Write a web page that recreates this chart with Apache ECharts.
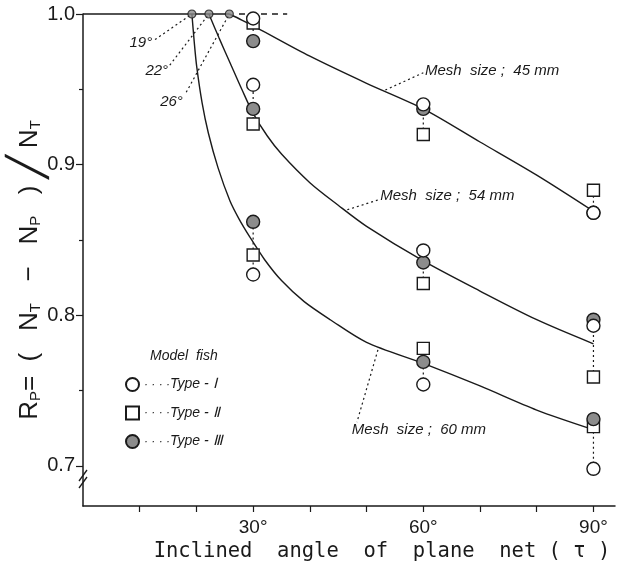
<!DOCTYPE html>
<html><head><meta charset="utf-8">
<script src="https://cdn.jsdelivr.net/npm/echarts@6/dist/echarts.min.js"></script>
<style>html,body{margin:0;padding:0;background:#fff}#c{width:624px;height:573px}</style>
</head><body><div id="c"></div>
<script>
// ---- data ----
const angles = [30, 60, 90];
// Type I (open circle)
const typeI_45 = [0.997, 0.940, 0.868];
const typeI_54 = [0.953, 0.843, 0.793];
const typeI_60 = [0.827, 0.754, 0.698];
// Type II (open square)
const typeII_45 = [0.994, 0.920, 0.883];
const typeII_54 = [0.927, 0.821, 0.759];
const typeII_60 = [0.840, 0.778, 0.726];
// Type III (shaded circle)
const typeIII_45 = [0.982, 0.937, 0.868];
const typeIII_54 = [0.937, 0.835, 0.797];
const typeIII_60 = [0.862, 0.769, 0.731];
// angle at which R_P leaves 1.0 (curve start points)
const startAngles = [19.2, 22.2, 25.8];
const startLabels = ['19°', '22°', '26°'];
// fitted curves
const curve45 = [[25.8, 1.0], [28, 0.996], [30.6, 0.991], [40, 0.972], [50, 0.954], [60, 0.937], [70, 0.915], [80, 0.893], [90, 0.869]];
const curve54 = [[22.2, 1.0], [24, 0.984], [26, 0.967], [28, 0.950], [30, 0.934], [32.5, 0.919], [35, 0.907], [40, 0.888], [45, 0.873], [50, 0.859], [60, 0.836], [70, 0.816], [80, 0.797], [90, 0.781]];
const curve60 = [[19.2, 1.0], [19.6, 0.982], [20.05, 0.965], [21, 0.941], [22.1, 0.921], [23.8, 0.898], [25.9, 0.876], [27.5, 0.864], [29.4, 0.852], [32, 0.837], [35, 0.823], [39, 0.809], [43.6, 0.797], [50, 0.782], [60, 0.768], [70, 0.753], [80, 0.737], [90, 0.724]];
const topSolid = [[0, 1.0], [25.8, 1.0]];
const topDashed = [[27.5, 1.0], [36, 1.0]];
// axis ticks
const xTickValues = [10, 20, 30, 40, 50, 60, 70, 80, 90];
const xLabelValues = [30, 60, 90];
const yLabelValues = [0.7, 0.8, 0.9, 1.0];
const yMinorTicks = [0.75, 0.85, 0.95];
// annotations (data coordinates)
const angleNoteAt = [[12.2, 0.981], [15.0, 0.962], [17.6, 0.942]];
const angleLeaderFrom = [[12.7, 0.983], [15.3, 0.966], [18.2, 0.948]];
const meshNotes = ['Mesh  size ;  45 mm', 'Mesh  size ;  54 mm', 'Mesh  size ;  60 mm'];
const meshNoteAt = [[60.3, 0.962], [52.4, 0.879], [47.4, 0.724]];
const meshLeaders = [[[53.3, 0.9495], [60.0, 0.961]], [[46.6, 0.870], [52.0, 0.8765]], [[52.0, 0.777], [48.3, 0.729]]];

const typeNames = ['Type - Ⅰ', 'Type - Ⅱ', 'Type - Ⅲ'];
const typeData = [
  [typeI_45, typeI_54, typeI_60],
  [typeII_45, typeII_54, typeII_60],
  [typeIII_45, typeIII_54, typeIII_60]
];

const INK = '#1a1a1a';
const FONT = 'Liberation Sans';
const chart = echarts.init(document.getElementById('c'), null, {renderer: 'canvas'});

const series = [];
series.push({type: 'line', data: topSolid, symbol: 'none', clip: false, silent: true, lineStyle: {color: INK, width: 1.3}, z: 2});
series.push({type: 'line', data: topDashed, symbol: 'none', clip: false, silent: true, lineStyle: {color: INK, width: 1.3, type: [6, 5]}, z: 2});
[curve45, curve54, curve60].forEach(c => series.push({
  type: 'line', data: c, symbol: 'none', smooth: 0.3, clip: false, silent: true,
  lineStyle: {color: INK, width: 1.4}, z: 3
}));
for (let m = 0; m < 3; m++) {
  angles.forEach((a, i) => {
    const vals = typeData.map(t => t[m][i]);
    series.push({type: 'line', data: [[a, Math.min(...vals)], [a, Math.max(...vals)]], symbol: 'none', clip: false, silent: true,
      lineStyle: {color: INK, width: 1.2, type: [2, 3]}, z: 2});
  });
}
startAngles.forEach((a, i) => series.push({type: 'line', data: [angleLeaderFrom[i], [a, 1.0]], symbol: 'none', clip: false, silent: true,
  lineStyle: {color: INK, width: 1.2, type: [2, 3]}, z: 2}));
meshLeaders.forEach(l => series.push({type: 'line', data: l, symbol: 'none', clip: false, silent: true,
  lineStyle: {color: INK, width: 1.2, type: [2, 3]}, z: 2}));
series.push({type: 'scatter', data: startAngles.map(a => [a, 1.0]), symbol: 'circle', symbolSize: 8, clip: false, silent: true,
  itemStyle: {color: '#8a8a8a', borderColor: INK, borderWidth: 1.2}, z: 5});
const symbols = ['circle', 'rect', 'circle'];
const fills = ['#ffffff', '#ffffff', '#8c8c8c'];
typeNames.forEach((n, t) => {
  const pts = [];
  for (let m = 0; m < 3; m++) angles.forEach((a, i) => pts.push([a, typeData[t][m][i]]));
  series.push({name: n, type: 'scatter', data: pts, symbol: symbols[t], symbolSize: t === 1 ? 12 : 13, clip: false,
    itemStyle: {color: fills[t], borderColor: INK, borderWidth: 1.4, opacity: 1}, z: t === 1 ? 6 : (t === 2 ? 7 : 8)});
});

chart.setOption({
  animation: false,
  backgroundColor: '#ffffff',
  grid: {left: 83, right: 9, top: 14, bottom: 67},
  legend: {
    orient: 'vertical', left: 120, top: 372, itemWidth: 13, itemHeight: 13, itemGap: 13.5, selectedMode: false,
    data: typeNames, formatter: n => '{d|· · · ·}' + n,
    textStyle: {fontStyle: 'italic', fontSize: 14, color: INK, fontFamily: FONT,
      rich: {d: {fontSize: 12, color: INK, fontFamily: FONT}}}
  },
  xAxis: {
    type: 'value', min: 0, max: 93.8,
    axisLine: {lineStyle: {color: INK, width: 1.5}},
    axisTick: {customValues: xTickValues, length: 6, lineStyle: {color: INK, width: 1.2}},
    axisLabel: {customValues: xLabelValues, formatter: v => v + '°', fontSize: 19, color: INK, margin: 12, fontFamily: FONT},
    splitLine: {show: false}
  },
  yAxis: [{
    type: 'value', min: 0.6733, max: 1.0,
    axisLine: {show: true, lineStyle: {color: INK, width: 1.5}},
    axisTick: {customValues: yLabelValues, length: 7, lineStyle: {color: INK, width: 1.2}},
    axisLabel: {customValues: yLabelValues, formatter: v => v.toFixed(1), fontSize: 20, color: INK, margin: 8, fontFamily: FONT},
    splitLine: {show: false}
  }, {
    type: 'value', min: 0.6733, max: 1.0, position: 'left', offset: 0,
    axisLine: {show: false},
    axisTick: {show: true, customValues: yMinorTicks, length: 4, lineStyle: {color: INK, width: 1.2}},
    axisLabel: {show: false},
    splitLine: {show: false}
  }],
  series: series
});

const toPx = p => chart.convertToPixel({gridIndex: 0}, p);
const graphics = [];
startLabels.forEach((s, i) => {
  const p = toPx(angleNoteAt[i]);
  graphics.push({type: 'text', x: p[0], y: p[1], style: {text: s, fontSize: 15, fontStyle: 'italic', fontFamily: FONT, fill: INK, align: 'right', verticalAlign: 'middle'}});
});
meshNotes.forEach((s, i) => {
  const p = toPx(meshNoteAt[i]);
  graphics.push({type: 'text', x: p[0], y: p[1], style: {text: s, fontSize: 15, fontStyle: 'italic', fontFamily: FONT, fill: INK, align: 'left', verticalAlign: 'middle'}});
});
graphics.push({type: 'text', x: 150, y: 356, style: {text: 'Model  fish', fontSize: 14, fontStyle: 'italic', fontFamily: FONT, fill: INK, align: 'left', verticalAlign: 'middle'}});
// y-axis title
graphics.push({type: 'text', x: 30, y: 270, rotation: Math.PI / 2,
  style: {text: 'R{s|P}=  (   N{s|T}   −   N{s|P}   ) {sl|╱} N{s|T}', fontSize: 26, fontFamily: FONT, fill: INK, align: 'center', verticalAlign: 'middle',
    rich: {s: {fontSize: 15, fontFamily: FONT, fill: INK, padding: [11, 0, 0, 0]}, sl: {fontSize: 38, fontFamily: 'DejaVu Sans', fill: INK}}}});
// x-axis title
graphics.push({type: 'text', x: 382, y: 552,
  style: {text: 'Inclined  angle  of  plane  net ( τ )', fontSize: 20.5, fontFamily: 'DejaVu Sans Mono', fill: INK, align: 'center', verticalAlign: 'middle'}});
// axis break mark
graphics.push({type: 'rect', shape: {x: 76, y: 473, width: 14, height: 11}, style: {fill: '#fff'}});
graphics.push({type: 'line', shape: {x1: 79, y1: 481, x2: 87, y2: 470}, style: {stroke: INK, lineWidth: 1.3}});
graphics.push({type: 'line', shape: {x1: 79, y1: 488, x2: 87, y2: 477}, style: {stroke: INK, lineWidth: 1.3}});
chart.setOption({graphic: graphics});
</script></body></html>
